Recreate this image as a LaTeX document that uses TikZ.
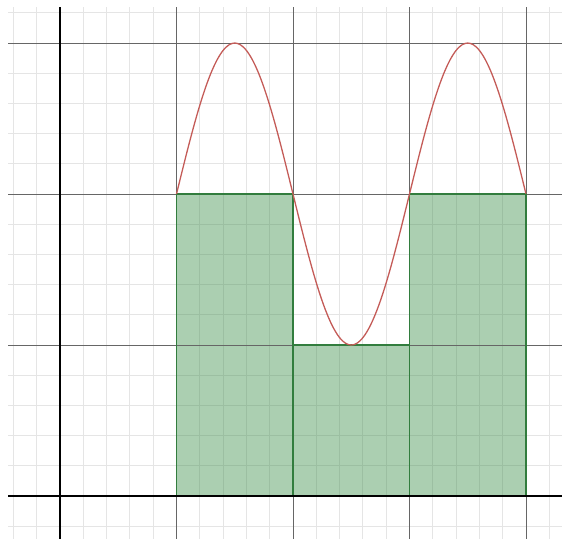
\documentclass[tikz,border=0pt]{standalone}
\definecolor{curvecol}{RGB}{196,92,88}
\definecolor{fillgreen}{RGB}{56,140,70}
\definecolor{edgegreen}{RGB}{50,125,62}
\begin{document}
\begin{tikzpicture}[x=116.5pt,y=151pt,
  minorgrid/.style={draw=black!10,line width=0.9pt},
  majorgrid/.style={draw=black!60,line width=1pt},
  axisline/.style={draw=black,line width=1.7pt},
  riemann/.style={fill=fillgreen,fill opacity=0.42},
  topedge/.style={draw=edgegreen,line width=2.2pt},
  curve/.style={draw=curvecol,line width=1.3pt}]
\useasboundingbox (-0.515,-0.285) rectangle (4.309,3.285);
% minor grid
\foreach \i in {-2,...,21} {\draw[minorgrid] (\i/5,3.238) -- (\i/5,-0.285);}
\foreach \j in {-1,...,16} {\draw[minorgrid] (-0.446,\j/5) -- (4.309,\j/5);}
% Riemann rectangles
\path[riemann] (1,0) rectangle (2,2);
\path[riemann] (2,0) rectangle (3,1);
\path[riemann] (3,0) rectangle (4,2);
% major grid
\foreach \i in {1,...,4} {\draw[majorgrid] (\i,3.238) -- (\i,-0.285);}
\foreach \j in {1,2,3} {\draw[majorgrid] (-0.446,\j) -- (4.309,\j);}
% rectangle borders
\draw[draw=edgegreen,line width=1.1pt] (1,0) rectangle (2,2) (2,0) rectangle (3,1) (3,0) rectangle (4,2);
\draw[topedge] (1,2) -- (2,2);
\draw[topedge] (2,1) -- (3,1);
\draw[topedge] (3,2) -- (4,2);
% axes
\coordinate (ytop) at (0,3.238);
\coordinate (ybot) at (0,-0.285);
\coordinate (xl) at (-0.446,0);
\coordinate (xr) at (4.309,0);
\draw[axisline] (ytop) -- (ybot);
\draw[axisline,line width=2.6pt] (xl) -- (xr);
% curve
\draw[curve,domain=1:4,samples=121,smooth] plot (\x,{2+sin(180*(\x-1))});
\end{tikzpicture}
\end{document}
